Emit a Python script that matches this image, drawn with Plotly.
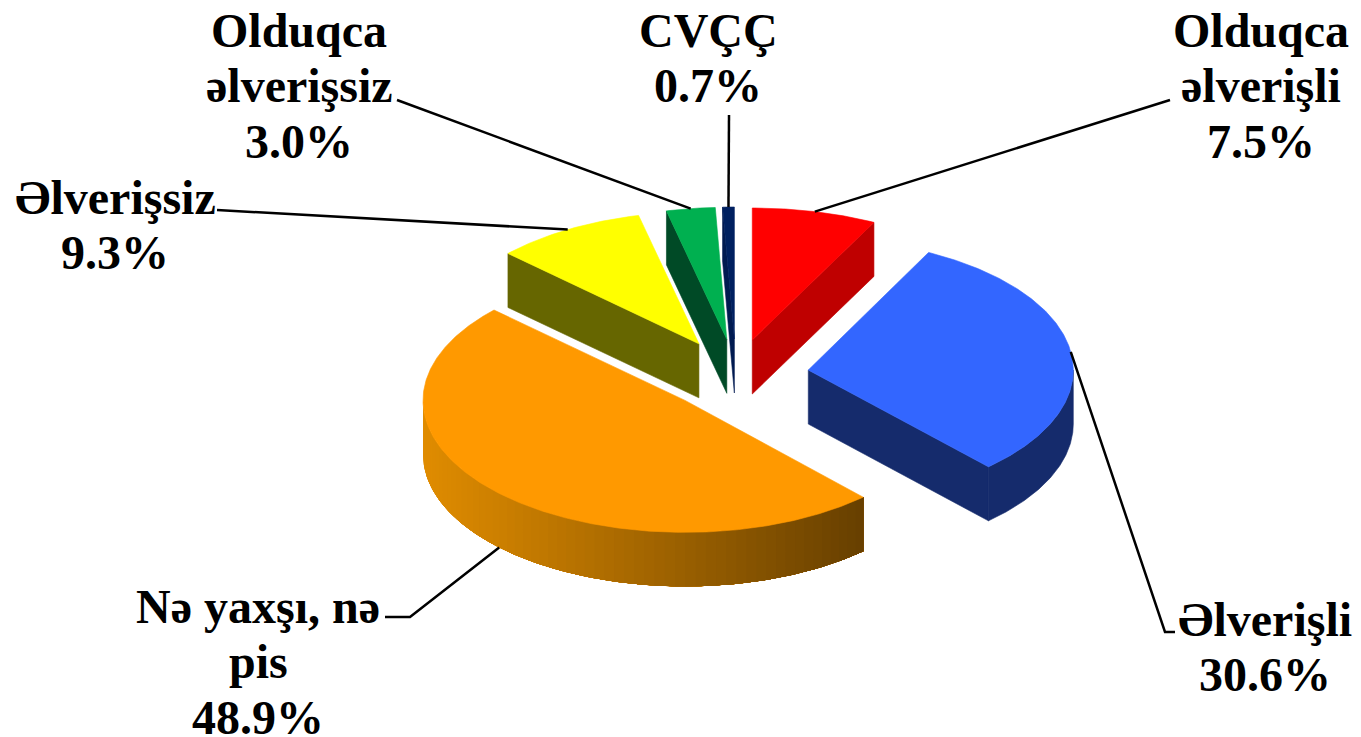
import numpy as np
import plotly.graph_objects as go

categories = ["Olduqca əlverişli", "Əlverişli", "Nə yaxşı, nə pis", "Əlverişsiz", "Olduqca əlverişsiz", "CVÇÇ"]
values = [7.5, 30.6, 48.9, 9.3, 3.0, 0.7]
top_colors = ["#FF0000", "#3366FF", "#FF9900", "#FFFF00", "#00B050", "#002060"]
side_colors = ["#BF0000", "#152B6C", "#B87000", "#666600", "#004A26", "#001A50"]
label_lines = [["Olduqca", "əlverişli"], ["Əlverişli"], ["Nə yaxşı, nə", "pis"], ["Əlverişsiz"], ["Olduqca", "əlverişsiz"], ["CVÇÇ"]]

# layout constants (pixels)
W, H = 1361, 737
CX, CY, RY, EX, EY, THICK = 735, 375, 132, 74, 36, 54
slice_rx = [268, 265, 262, 262, 262, 268]
slice_dx = [0, 0, 2.5, 1, 2, 1]
FONT_SIZE, PITCH = 48, 55.5
label_pos = [(1261, 30), (1265, 619), (258, 606), (115, 197), (299, 30), (708, 30)]
# elbow path from the text to the slice rim
leader_path = [[(1170, 100)], [(1175, 632), (1165, 632)], [(385, 617), (410, 617)], [(217, 210)], [(397, 100)], [(729, 115)]]
shaded_rim = [0, 0, 1, 0, 0, 0]


def pt(cen, rx, deg, dz=0.0):
    t = np.radians(deg)
    return cen[0] + rx * np.sin(t), cen[1] - RY * np.cos(t) + dz


def poly(fig, pts, color, lw=0.6):
    xs, ys = zip(*pts)
    fig.add_trace(go.Scatter(x=list(xs) + [xs[0]], y=list(ys) + [ys[0]], mode="lines", fill="toself",
                             fillcolor=color, line=dict(color=color, width=lw), hoverinfo="skip", showlegend=False))


def lerp(c1, c2, f):
    a = [int(c1[i:i + 2], 16) for i in (1, 3, 5)]
    b = [int(c2[i:i + 2], 16) for i in (1, 3, 5)]
    return "rgb(%d,%d,%d)" % tuple(round(p + (q - p) * f) for p, q in zip(a, b))


fig = go.Figure()
total = sum(values)
edges = np.concatenate([[0], np.cumsum(values)]) / total * 360
slices = []
for i in range(len(values)):
    a0, a1 = edges[i], edges[i + 1]
    mid = (a0 + a1) / 2
    t = np.radians(mid)
    cen = (CX + EX * np.sin(t) + slice_dx[i], CY - EY * np.cos(t))
    slices.append((i, a0, a1, mid, cen))

for i, a0, a1, mid, cen in sorted(slices, key=lambda s: s[4][1]):
    rx = slice_rx[i]
    # flat cut faces that look toward the viewer
    for a, normal in ((a0, a0 - 90), (a1, a1 + 90)):
        if np.cos(np.radians(normal)) < -1e-6:
            p = pt(cen, rx, a)
            poly(fig, [cen, p, (p[0], p[1] + THICK), (cen[0], cen[1] + THICK)], side_colors[i])
    # outer rim, front half only
    lo, hi = max(a0, 90), min(a1, 270)
    if hi > lo:
        if shaded_rim[i]:
            # gradient: overlapping bands painted from the light end to the dark end
            steps = np.linspace(hi, lo, 60)
            for k, s0 in enumerate(steps[:-1]):
                band = np.linspace(s0, lo, max(int(s0 - lo) * 2, 3))
                up = [pt(cen, rx, a) for a in band]
                down = [pt(cen, rx, a, THICK) for a in band[::-1]]
                x_mid = pt(cen, rx, s0)[0]
                f = np.clip((cen[0] + rx - 85 - x_mid) / (2 * rx - 85), 0, 1)
                poly(fig, up + down, lerp("#663F00", "#E08C00", f), lw=0)
        else:
            band = np.linspace(lo, hi, int(hi - lo) * 2 + 3)
            poly(fig, [pt(cen, rx, a) for a in band] + [pt(cen, rx, a, THICK) for a in band[::-1]], side_colors[i])
    # top face
    arc = np.linspace(a0, a1, max(int(a1 - a0) * 2, 4))
    poly(fig, [cen] + [pt(cen, rx, a) for a in arc], top_colors[i])

# leader lines, ending on the rim at each slice's mid angle
for i, a0, a1, mid, cen in slices:
    dz = THICK if 100 < mid < 260 else 0
    end = pt(cen, slice_rx[i], mid, dz)
    path = leader_path[i] + [end]
    fig.add_trace(go.Scatter(x=[p[0] for p in path], y=[p[1] for p in path], mode="lines",
                             line=dict(color="black", width=2.5), hoverinfo="skip", showlegend=False))

# labels
ann = []
for i, lines in enumerate(label_lines):
    x, y = label_pos[i]
    for j, text in enumerate(lines + [f"{values[i]:.1f}%"]):
        ann.append(dict(x=x, y=y + j * PITCH, text=f"<b>{text}</b>", showarrow=False, xref="x", yref="y",
                        xanchor="center", yanchor="middle",
                        font=dict(family="Liberation Serif", size=FONT_SIZE, color="black")))

fig.update_layout(width=W, height=H, margin=dict(l=0, r=0, t=0, b=0), paper_bgcolor="white", plot_bgcolor="white",
                  showlegend=False, annotations=ann,
                  xaxis=dict(range=[0, W], visible=False, fixedrange=True),
                  yaxis=dict(range=[H, 0], visible=False, fixedrange=True))
fig.write_html("out.html", config=dict(displayModeBar=False),
               post_script="document.body.style.margin='0';document.documentElement.style.overflow='hidden';")
